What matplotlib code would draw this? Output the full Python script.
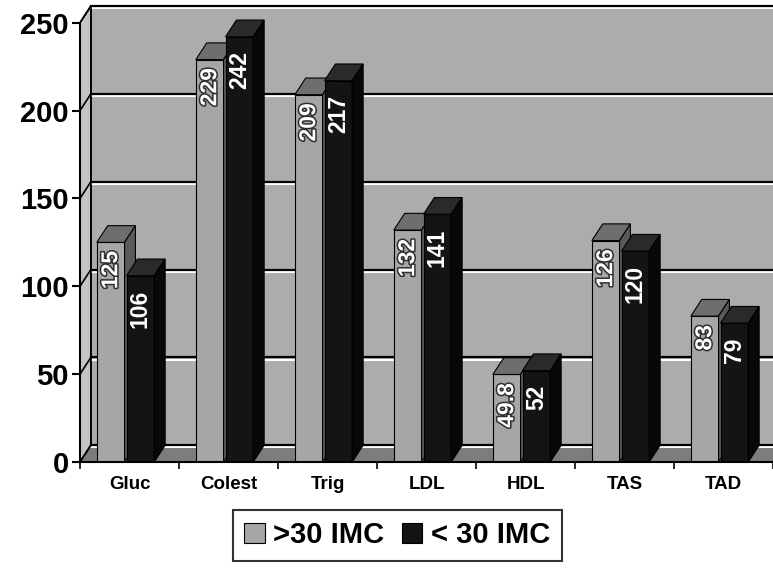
import matplotlib.pyplot as plt
import matplotlib.patheffects as pe
from matplotlib.patches import Polygon, Rectangle

plt.rcParams['font.family'] = ['Liberation Sans', 'DejaVu Sans']
plt.rcParams['font.weight'] = 'bold'

categories = ['Gluc', 'Colest', 'Trig', 'LDL', 'HDL', 'TAS', 'TAD']
gt30 = [125, 229, 209, 132, 49.8, 126, 83]
lt30 = [106, 242, 217, 141, 52, 120, 79]
gt30_labels = ['125', '229', '209', '132', '49.8', '126', '83']
lt30_labels = ['106', '242', '217', '141', '52', '120', '79']
yticks = [0, 50, 100, 150, 200, 250]

# 3D look parameters (data units)
DX, DY = 0.11, 9.5
W = 0.28
WALL = '#acacac'
LIGHT = '#a6a6a6'
LIGHT_TOP = '#6e6e6e'
DARK = '#141414'
DARK_SIDE = '#080808'
FLOOR = '#7c7c7c'

fig = plt.figure(figsize=(7.73, 5.73), dpi=100)
ax = fig.add_axes([80 / 773, 111 / 573, 693 / 773, 456 / 573])
ax.set_xlim(0, 7)
ax.set_ylim(0, 250 + DY)

# paredes y piso
ax.add_patch(Rectangle((DX, DY), 7, 250, facecolor=WALL, edgecolor='none', zorder=0))
ax.add_patch(Polygon([(0, 0), (DX, DY), (DX, 250 + DY), (0, 250)], closed=True,
                     facecolor='#c4c4c4', edgecolor='black', lw=1.2, zorder=1))
ax.add_patch(Polygon([(0, 0), (DX, DY), (7 + DX, DY), (7, 0)], closed=True,
                     facecolor=FLOOR, edgecolor='black', lw=1.0, zorder=1))

for yv in yticks:
    ax.plot([DX, 7 + DX], [yv + DY - 1.2, yv + DY - 1.2], color='white', lw=1.5, zorder=1, clip_on=True)
    ax.plot([DX, 7 + DX], [yv + DY, yv + DY], color='black', lw=1.6, zorder=1, clip_on=False)
    ax.plot([0, DX], [yv, yv + DY], color='black', lw=1.2, zorder=1, clip_on=False)
ax.plot([DX, DX], [DY, 250 + DY], color='black', lw=1.2, zorder=1)


def bar3d(x, v, face, top, side, z):
    ax.add_patch(Rectangle((x, 0), W, v, facecolor=face, edgecolor='black', lw=0.8, zorder=z))
    ax.add_patch(Polygon([(x, v), (x + DX, v + DY), (x + W + DX, v + DY), (x + W, v)], closed=True,
                         facecolor=top, edgecolor='black', lw=0.8, zorder=z))
    ax.add_patch(Polygon([(x + W, 0), (x + W + DX, DY), (x + W + DX, v + DY), (x + W, v)], closed=True,
                         facecolor=side, edgecolor='black', lw=0.8, zorder=z))


for i in range(len(categories)):
    x1 = i + 0.17
    x2 = i + 0.47
    bar3d(x1, gt30[i], LIGHT, LIGHT_TOP, '#5a5a5a', 3 + 2 * i)
    bar3d(x2, lt30[i], DARK, '#2a2a2a', DARK_SIDE, 4 + 2 * i)
    ax.text(x1 + W / 2, gt30[i] - 5, gt30_labels[i], rotation=90, ha='center', va='top',
            color='white', fontsize=16.5, fontweight='bold', zorder=30,
            path_effects=[pe.withStroke(linewidth=2.2, foreground='#303030')])
    ax.text(x2 + W / 2, lt30[i] - 8, lt30_labels[i], rotation=90, ha='center', va='top',
            color='white', fontsize=16.5, fontweight='bold', zorder=30)

# ejes
for s in ['top', 'right']:
    ax.spines[s].set_visible(False)
ax.spines['left'].set_bounds(0, 250)
ax.spines['left'].set_linewidth(1.5)
ax.spines['bottom'].set_linewidth(1.5)
ax.spines['left'].set_zorder(50)
ax.spines['bottom'].set_zorder(50)
ax.set_yticks(yticks)
ax.set_yticklabels([str(t) for t in yticks], fontsize=21, fontweight='bold')
ax.tick_params(axis='y', length=6, width=1.5, pad=2)
ax.set_xticks(range(8), minor=False)
ax.set_xticklabels([''] * 8)
ax.tick_params(axis='x', length=5, width=1.2)
ax.set_xticks([i + 0.5 for i in range(7)], minor=True)
ax.set_xticklabels(categories, minor=True, fontsize=13.5, fontweight='bold')
ax.tick_params(axis='x', which='minor', length=0, pad=10)

handles = [Rectangle((0, 0), 1, 1, facecolor=LIGHT, edgecolor='black', lw=0.8),
           Rectangle((0, 0), 1, 1, facecolor=DARK, edgecolor='black', lw=0.8)]
leg = fig.legend(handles, ['>30 IMC', '< 30 IMC'], loc='center', bbox_to_anchor=(0.514, 0.066),
                 ncol=2, frameon=True, fancybox=False, edgecolor='black',
                 prop={'size': 21, 'weight': 'bold'}, handlelength=0.7, handleheight=0.7,
                 handletextpad=0.3, columnspacing=0.6, borderpad=0.4)
leg.get_frame().set_linewidth(1.5)

fig.savefig('out.png', dpi=100)
